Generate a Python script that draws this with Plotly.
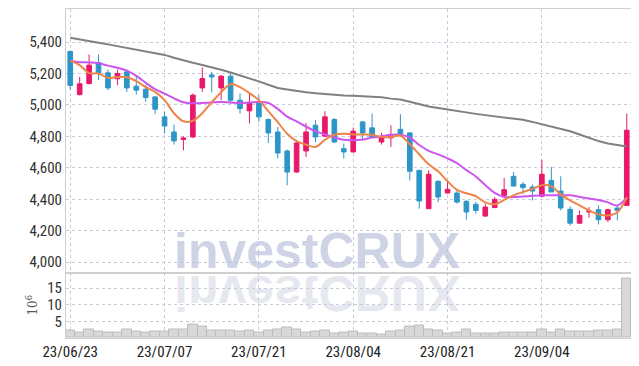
import plotly.graph_objects as go
from plotly.subplots import make_subplots

dates = ["23/06/23", "23/06/26", "23/06/27", "23/06/28", "23/06/29", "23/06/30",
         "23/07/03", "23/07/04", "23/07/05", "23/07/06", "23/07/07",
         "23/07/10", "23/07/11", "23/07/12", "23/07/13", "23/07/14",
         "23/07/17", "23/07/18", "23/07/19", "23/07/20", "23/07/21",
         "23/07/24", "23/07/25", "23/07/26", "23/07/27", "23/07/28",
         "23/07/31", "23/08/01", "23/08/02", "23/08/03", "23/08/04",
         "23/08/07", "23/08/08", "23/08/09", "23/08/10", "23/08/11",
         "23/08/14", "23/08/16", "23/08/17", "23/08/18",
         "23/08/21", "23/08/22", "23/08/23", "23/08/24", "23/08/25",
         "23/08/28", "23/08/29", "23/08/30", "23/08/31", "23/09/01",
         "23/09/04", "23/09/05", "23/09/06", "23/09/07", "23/09/08",
         "23/09/11", "23/09/12", "23/09/13", "23/09/14", "23/09/15"]

open_ = [5340, 5066, 5136, 5270, 5204, 5166, 5210, 5119, 5100, 5051,
         4924, 4828, 4780, 4796, 5108, 5191, 5108, 5183, 5030, 4962,
         5019, 4907, 4828, 4707, 4573, 4707, 4871, 4801, 4907, 4722,
         4701, 4892, 4854, 4764, 4790, 4845, 4822, 4584, 4340, 4514,
         4440, 4440, 4387, 4368, 4293, 4347, 4425, 4546, 4495, 4478,
         4419, 4520, 4452, 4336, 4248, 4319, 4334, 4270, 4344, 4361]
high = [5345, 5178, 5321, 5321, 5225, 5225, 5225, 5183, 5126, 5055,
        4956, 4875, 4801, 5073, 5238, 5210, 5190, 5200, 5073, 5077,
        5062, 4913, 4860, 4716, 4775, 4885, 4903, 4960, 4917, 4754,
        4856, 4898, 4945, 4822, 4871, 4941, 4825, 4586, 4584, 4520,
        4520, 4457, 4393, 4382, 4372, 4414, 4535, 4573, 4510, 4495,
        4652, 4605, 4546, 4355, 4329, 4350, 4361, 4340, 4361, 4945]
low = [5094, 5060, 5130, 5157, 5094, 5126, 5083, 5066, 5019, 4941,
       4818, 4748, 4711, 4790, 5083, 5079, 5030, 5009, 4945, 4882,
       4892, 4758, 4659, 4489, 4570, 4669, 4764, 4798, 4760, 4659,
       4698, 4775, 4793, 4748, 4733, 4815, 4520, 4340, 4338, 4382,
       4436, 4372, 4270, 4308, 4290, 4345, 4423, 4484, 4436, 4393,
       4417, 4446, 4329, 4234, 4246, 4283, 4240, 4255, 4266, 4359]
close = [5124, 5134, 5253, 5202, 5108, 5200, 5108, 5094, 5047, 4973,
         4866, 4771, 4790, 5062, 5168, 5178, 5183, 5030, 4977, 5009,
         4924, 4822, 4694, 4573, 4758, 4828, 4796, 4924, 4764, 4701,
         4833, 4822, 4796, 4796, 4803, 4818, 4578, 4389, 4559, 4414,
         4463, 4382, 4319, 4329, 4350, 4399, 4461, 4484, 4474, 4452,
         4559, 4446, 4344, 4248, 4297, 4325, 4270, 4334, 4329, 4839]

ma5 = [5282, 5253, 5202, 5200, 5172, 5178, 5176, 5151, 5113, 5083,
       5030, 4947, 4896, 4899, 4947, 5017, 5081, 5132, 5113, 5075,
       5030, 4960, 4890, 4817, 4769, 4747, 4733, 4778, 4810, 4817,
       4812, 4812, 4810, 4796, 4796, 4804, 4750, 4686, 4622, 4578,
       4514, 4460, 4438, 4419, 4380, 4368, 4396, 4425, 4446, 4466,
       4489, 4482, 4431, 4393, 4361, 4329, 4304, 4297, 4317, 4412]
ma20 = [5279, 5272, 5270, 5265, 5250, 5236, 5218, 5185, 5140, 5100,
        5072, 5042, 5017, 5010, 5012, 5015, 5018, 5015, 5012, 5015,
        5018, 5012, 4975, 4925, 4895, 4862, 4833, 4812, 4793, 4778,
        4776, 4780, 4792, 4801, 4810, 4810, 4792, 4745, 4708, 4685,
        4660, 4630, 4585, 4545, 4490, 4440, 4414, 4414, 4418, 4422,
        4425, 4425, 4425, 4425, 4415, 4405, 4395, 4380, 4361, 4412]
ma60 = [5427, 5415, 5405, 5395, 5385, 5374, 5364, 5354, 5344, 5332,
        5318, 5300, 5282, 5268, 5254, 5240, 5224, 5206, 5188, 5168,
        5150, 5128, 5108, 5098, 5088, 5080, 5074, 5068, 5064, 5060,
        5058, 5056, 5052, 5048, 5040, 5034, 5020, 5005, 4990, 4980,
        4970, 4960, 4950, 4943, 4935, 4928, 4922, 4915, 4905, 4892,
        4877, 4862, 4846, 4832, 4812, 4790, 4770, 4755, 4745, 4735]

volume = [2.1, 1.7, 2.4, 1.8, 1.5, 1.5, 2.6, 1.8, 1.5, 2.0,
          2.0, 2.6, 2.4, 4.1, 3.6, 2.3, 2.1, 2.3, 1.8, 2.3,
          1.6, 2.3, 2.7, 3.2, 2.6, 1.5, 1.8, 2.1, 1.2, 1.7,
          1.9, 1.2, 1.2, 0.9, 1.8, 2.2, 3.4, 3.9, 2.4, 2.3,
          1.2, 1.5, 2.4, 1.2, 1.2, 1.2, 1.5, 1.5, 1.5, 1.5,
          2.7, 1.5, 2.4, 1.8, 1.8, 1.8, 2.1, 2.1, 2.4, 18.0]

tick_dates = ["23/06/23", "23/07/07", "23/07/21", "23/08/04", "23/08/21", "23/09/04"]
price_ticks = [4000, 4200, 4400, 4600, 4800, 5000, 5200, 5400]
vol_ticks = [5, 10, 15]

UP = "#e8186a"
DOWN = "#2c96c8"
FONT = "Roboto Condensed, Liberation Sans Narrow, Arial Narrow, Roboto, sans-serif"
GRID = "#c9cbdc"

fig = make_subplots(rows=2, cols=1, shared_xaxes=True, vertical_spacing=0,
                    row_heights=[0.801, 0.199])

fig.add_trace(go.Candlestick(
    x=dates, open=open_, high=high, low=low, close=close,
    increasing=dict(line=dict(color=UP, width=1), fillcolor=UP),
    decreasing=dict(line=dict(color=DOWN, width=1), fillcolor=DOWN),
    whiskerwidth=0, showlegend=False, hoverinfo="skip"), row=1, col=1)

fig.add_trace(go.Scatter(x=dates, y=ma60, mode="lines",
                         line=dict(color="#808080", width=2), showlegend=False), row=1, col=1)
fig.add_trace(go.Scatter(x=dates, y=ma20, mode="lines", line_shape="spline",
                         line=dict(color="#cc55ee", width=2), showlegend=False), row=1, col=1)
fig.add_trace(go.Scatter(x=dates, y=ma5, mode="lines", line_shape="spline",
                         line=dict(color="#ee8448", width=2), showlegend=False), row=1, col=1)

fig.add_trace(go.Bar(x=dates, y=volume, marker=dict(color="#d8d8d8", line=dict(color="#bdbdbd", width=1)),
                     showlegend=False), row=2, col=1)

xcommon = dict(type="category", range=[-0.45, 59.45], showgrid=True, gridcolor=GRID,
               griddash="dot", gridwidth=1, tickvals=tick_dates, ticktext=tick_dates,
               showline=True, linecolor="#cfcfcf", mirror=True, ticks="", automargin=False,
               rangeslider=dict(visible=False))
fig.update_xaxes(**xcommon)
fig.update_xaxes(showticklabels=False, row=1, col=1)
fig.update_xaxes(showticklabels=True, tickfont=dict(family=FONT, size=15, color="#222"),
                 row=2, col=1)

fig.update_yaxes(range=[3934, 5610], tickvals=price_ticks, tickformat=",d",
                 showgrid=True, gridcolor=GRID, griddash="dot", zeroline=False,
                 showline=True, linecolor="#cfcfcf", mirror=True, ticks="", automargin=False,
                 tickfont=dict(family=FONT, size=15, color="#333"), row=1, col=1)
fig.update_yaxes(range=[0, 19.7], tickvals=vol_ticks, showgrid=True, gridcolor=GRID,
                 griddash="dot", zeroline=False, showline=True, linecolor="#cfcfcf",
                 mirror=True, ticks="", automargin=False,
                 tickfont=dict(family=FONT, size=15, color="#333"),
                 title=dict(text="10<sup>6</sup>", font=dict(family="DejaVu Serif, serif", size=12, color="#555"),
                            standoff=6),
                 row=2, col=1)

wm_family = "Liberation Sans, Arial, sans-serif"
fig.add_annotation(text="<b>investCRUX</b>", xref="paper", yref="paper", x=0.445, y=0.2,
                   xanchor="center", yanchor="bottom", yshift=-9, showarrow=False,
                   font=dict(family=wm_family, size=50, color="rgba(190,198,222,0.75)"))
fig.add_annotation(text="<b>investCRUX</b>", xref="paper", yref="paper", x=0.445, y=0.2,
                   xanchor="center", yanchor="top", yshift=9, showarrow=False,
                   font=dict(family=wm_family, size=50, color="rgba(200,204,220,0.45)"))

# the page body has an 8px margin, so the figure is offset by (8, 8) in the window
fig.update_layout(width=631, height=358, margin=dict(l=58, r=8, t=1, b=28),
                  paper_bgcolor="white", plot_bgcolor="white", bargap=0)

post = """
var gd = document.getElementById('{plot_id}');
function flipWm(){
  var t = gd.querySelectorAll('.annotation[data-index="1"] text.annotation-text');
  t.forEach(function(e){ e.style.transformBox='fill-box'; e.style.transformOrigin='center'; e.style.transform='scaleY(-1)'; });
}
flipWm();
if (gd.on) { gd.on('plotly_afterplot', flipWm); }
"""
fig.write_html("out.html", post_script=post)
